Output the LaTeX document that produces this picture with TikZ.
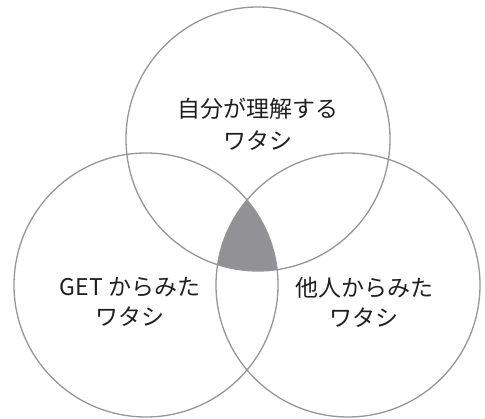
\documentclass[tikz,border=0pt]{standalone}
\usepackage{fontspec}
\newfontfamily\jpfont{Noto Sans CJK JP}
\definecolor{ringgray}{RGB}{150,150,154}
\definecolor{coregray}{RGB}{145,145,150}

\begin{document}
\begin{tikzpicture}[x=1pt,y=-1pt,line width=1.3pt,
  ring/.style={draw=ringgray},
  caption/.style={font=\jpfont\fontsize{23}{30}\selectfont,align=center,text=black!88}]
\useasboundingbox(0,0) rectangle (485,419);

% centre where all three overlap
\begin{scope}
\clip(258,139) circle (132pt);
\clip(146,285) circle (132pt);
\fill[coregray](348,285) circle (132pt);
\end{scope}

\draw[ring](258,139) circle (132pt);
\draw[ring](146,285) circle (132pt);
\draw[ring](348,285) circle (132pt);

\node[caption,font=\jpfont\fontsize{23}{32}\selectfont](self) at (258,124){自分が理解する\\ワタシ};
\node[caption](get) at (130,302){GET からみた\\ワタシ};
\node[caption](others) at (364,302){他人からみた\\ワタシ};

\end{tikzpicture}
\end{document}
